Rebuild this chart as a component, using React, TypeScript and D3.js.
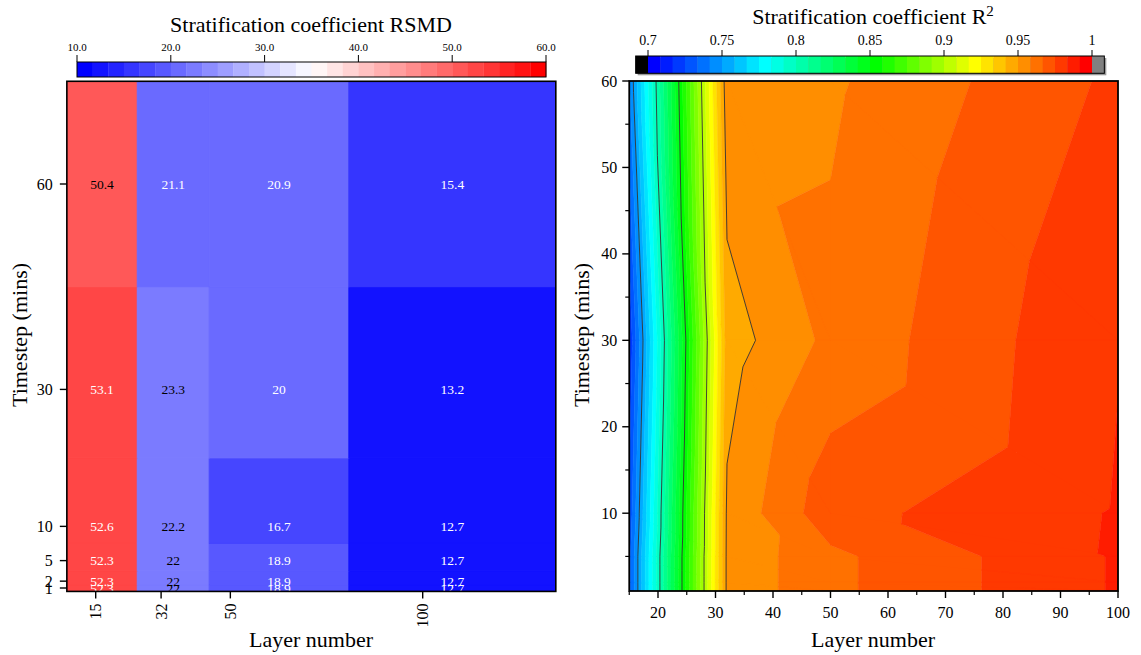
import React from "react";
import * as d3 from "d3";

// Layer numbers and timesteps (mins) of the stratification runs
const layers = [15, 32, 50, 100];
const timesteps = [1, 2, 5, 10, 30, 60];
// Heatmap cell borders along each axis
const layerEdges = [7.5, 25.8, 44.5, 80.8, 134.6];
const timestepEdges = [0.5, 1.5, 3.5, 7.5, 20, 45, 75];

// RSMD per timestep row (1, 2, 5, 10, 30, 60) and layer column
const rsmdT1 = [52.3, 22, 18.9, 12.7];
const rsmdT2 = [52.3, 22, 18.9, 12.7];
const rsmdT5 = [52.3, 22, 18.9, 12.7];
const rsmdT10 = [52.6, 22.2, 16.7, 12.7];
const rsmdT30 = [53.1, 23.3, 20, 13.2];
const rsmdT60 = [50.4, 21.1, 20.9, 15.4];
const rsmd = [rsmdT1, rsmdT2, rsmdT5, rsmdT10, rsmdT30, rsmdT60];

// R² per timestep row and layer column
const r2T1 = [0.7305, 0.952, 0.9648, 0.9842];
const r2T2 = [0.7305, 0.952, 0.9648, 0.9842];
const r2T5 = [0.7305, 0.952, 0.9648, 0.9842];
const r2T10 = [0.727, 0.9516, 0.972, 0.984];
const r2T30 = [0.718, 0.946, 0.9605, 0.983];
const r2T60 = [0.741, 0.9563, 0.957, 0.9768];
const r2 = [r2T1, r2T2, r2T5, r2T10, r2T30, r2T60];

const rsmdTicks = [10, 20, 30, 40, 50, 60];
const r2BarTicks = [0.7, 0.75, 0.8, 0.85, 0.9, 0.95, 1];
const r2LineLevels = [0.75, 0.8, 0.85, 0.9, 0.95];
const r2XTicks = [20, 30, 40, 50, 60, 70, 80, 90, 100];
const r2XMinor = [15, 25, 35, 45, 55, 65, 75, 85, 95];
const r2YTicks = [10, 20, 30, 40, 50, 60];
const r2YMinor = [5, 15, 25, 35, 45, 55];

const FONT = "'Liberation Serif', 'Times New Roman', serif";

// ---- RSMD palette: 30 discrete steps blue -> white -> red
const RSMD_MIN = 10;
const RSMD_MAX = 60;
const RSMD_STEPS = 30;
function rsmdStepColor(k: number) {
  if (k <= 14) {
    const c = Math.round((255 * k) / 14.5);
    return `rgb(${c},${c},255)`;
  }
  const c = Math.round((255 * (29 - k)) / 14.5);
  return `rgb(255,${c},${c})`;
}
function rsmdStep(v: number) {
  return Math.max(0, Math.min(RSMD_STEPS - 1, Math.floor(((v - RSMD_MIN) / (RSMD_MAX - RSMD_MIN)) * RSMD_STEPS + 1e-9)));
}
function labelColor(k: number) {
  const c = d3.rgb(rsmdStepColor(k));
  const lum = 0.299 * c.r + 0.587 * c.g + 0.114 * c.b;
  return lum < 130 ? "#ffffff" : "#000000";
}

// ---- R² palette: 36 discrete levels 0.7..1 (rainbow), black below, grey above
const R2_MIN = 0.7;
const R2_MAX = 1.0;
const R2_STEPS = 36;
const r2Edges = d3.range(R2_STEPS + 1).map((i) => R2_MIN + (i * (R2_MAX - R2_MIN)) / R2_STEPS);
const rainbow = d3
  .scaleLinear<string>()
  .domain([0, 9, 18, 26, 35])
  .range(["#0000ff", "#00ffff", "#00ff00", "#ffff00", "#ff0000"])
  .interpolate(d3.interpolateRgb);
function r2BandColor(k: number) {
  if (k < 0) return "#000000";
  if (k >= R2_STEPS) return "#808080";
  return rainbow(k);
}

type P = { x: number; y: number; v: number };

function clipPoly(poly: P[], level: number, keepAbove: boolean): P[] {
  const out: P[] = [];
  const inside = (p: P) => (keepAbove ? p.v >= level : p.v <= level);
  for (let i = 0; i < poly.length; i++) {
    const a = poly[i];
    const b = poly[(i + 1) % poly.length];
    const ia = inside(a);
    const ib = inside(b);
    if (ia) out.push(a);
    if (ia !== ib) {
      const t = (level - a.v) / (b.v - a.v);
      out.push({ x: a.x + t * (b.x - a.x), y: a.y + t * (b.y - a.y), v: level });
    }
  }
  return out;
}

// Triangulate the layer x timestep grid (diagonal from upper-left to lower-right)
function triangles(): P[][] {
  const tris: P[][] = [];
  const pt = (i: number, j: number): P => ({ x: layers[i], y: timesteps[j], v: r2[j][i] });
  for (let i = 0; i < layers.length - 1; i++) {
    for (let j = 0; j < timesteps.length - 1; j++) {
      tris.push([pt(i, j), pt(i + 1, j), pt(i, j + 1)]);
      tris.push([pt(i, j + 1), pt(i + 1, j), pt(i + 1, j + 1)]);
    }
  }
  return tris;
}

export default function App() {
  // ---------- left panel scales
  const xL = d3.scaleLinear().domain([15, 100]).range([95.7, 422.7]);
  const yL = d3.scaleLinear().domain([1, 60]).range([588, 184]);
  const cbL = d3.scaleLinear().domain([RSMD_MIN, RSMD_MAX]).range([77, 546]);
  const lx0 = xL(layerEdges[0]);
  const lx1 = xL(layerEdges[layerEdges.length - 1]);
  const ly0 = yL(timestepEdges[timestepEdges.length - 1]);
  const ly1 = yL(timestepEdges[0]);

  // ---------- right panel scales
  const xR = d3.scaleLinear().domain([15, 100]).range([629.25, 1118]);
  const yR = d3.scaleLinear().domain([1, 60]).range([591, 81]);
  const cbR = d3.scaleLinear().domain([R2_MIN, R2_MAX]).range([648, 1092]);
  const cbStep = cbR(r2Edges[1]) - cbR(r2Edges[0]);

  const tris = triangles();
  const line = d3
    .line<P>()
    .x((p) => xR(p.x))
    .y((p) => yR(p.y));

  // filled bands
  const bands: { k: number; d: string }[] = [];
  for (let k = -1; k <= R2_STEPS; k++) {
    const lo = k < 0 ? -Infinity : r2Edges[k];
    const hi = k >= R2_STEPS ? Infinity : r2Edges[k + 1];
    let d = "";
    for (const t of tris) {
      let poly = t;
      if (isFinite(lo)) poly = clipPoly(poly, lo, true);
      if (poly.length >= 3 && isFinite(hi)) poly = clipPoly(poly, hi, false);
      if (poly.length >= 3) d += line(poly) + "Z";
    }
    if (d) bands.push({ k, d });
  }

  // isolines
  let isoPath = "";
  for (const L of r2LineLevels) {
    for (const t of tris) {
      const pts: P[] = [];
      for (let e = 0; e < 3; e++) {
        const a = t[e];
        const b = t[(e + 1) % 3];
        if ((a.v - L) * (b.v - L) < 0) {
          const s = (L - a.v) / (b.v - a.v);
          pts.push({ x: a.x + s * (b.x - a.x), y: a.y + s * (b.y - a.y), v: L });
        }
      }
      if (pts.length === 2) isoPath += line(pts);
    }
  }

  const rx0 = xR(15);
  const rx1 = xR(100);
  const ry0 = yR(60);
  const ry1 = yR(1);

  return (
    <svg
      width={1141}
      height={655}
      style={{ position: "absolute", left: 0, top: 0, background: "#fff" }}
      fontFamily={FONT}
    >
      <defs>
        <clipPath id="clipL">
          <rect x={lx0} y={ly0} width={lx1 - lx0} height={ly1 - ly0} />
        </clipPath>
        <clipPath id="clipR">
          <rect x={rx0} y={ry0} width={rx1 - rx0} height={ry1 - ry0} />
        </clipPath>
      </defs>

      {/* ================= LEFT: RSMD heatmap ================= */}
      <text x={311} y={31.5} fontSize={22} textAnchor="middle">
        Stratification coefficient RSMD
      </text>
      {/* colour bar */}
      <g>
        {d3.range(RSMD_STEPS).map((k) => {
          const a = RSMD_MIN + (k * (RSMD_MAX - RSMD_MIN)) / RSMD_STEPS;
          const b = RSMD_MIN + ((k + 1) * (RSMD_MAX - RSMD_MIN)) / RSMD_STEPS;
          return (
            <rect key={k} x={cbL(a)} y={62} width={cbL(b) - cbL(a) + 0.3} height={15} fill={rsmdStepColor(k)} />
          );
        })}
        <rect x={cbL(RSMD_MIN)} y={62} width={cbL(RSMD_MAX) - cbL(RSMD_MIN)} height={15} fill="none" stroke="#000" strokeWidth={1} />
        {rsmdTicks.map((t) => (
          <g key={t}>
            <line x1={cbL(t)} x2={cbL(t)} y1={55} y2={62} stroke="#000" strokeWidth={1} />
            <text x={cbL(t)} y={51} fontSize={11} textAnchor="middle">
              {t.toFixed(1)}
            </text>
          </g>
        ))}
      </g>

      {/* cells */}
      <g clipPath="url(#clipL)">
        {rsmd.map((row, j) =>
          row.map((v, i) => {
            const k = rsmdStep(v);
            return (
              <rect
                key={`c${j}-${i}`}
                x={xL(layerEdges[i])}
                y={yL(timestepEdges[j + 1])}
                width={xL(layerEdges[i + 1]) - xL(layerEdges[i])}
                height={yL(timestepEdges[j]) - yL(timestepEdges[j + 1])}
                fill={rsmdStepColor(k)}
                stroke={rsmdStepColor(k)}
                strokeWidth={1}
              />
            );
          })
        )}
        {rsmd.map((row, j) =>
          row.map((v, i) => {
            const k = rsmdStep(v);
            const cx = (xL(layerEdges[i]) + xL(layerEdges[i + 1])) / 2;
            return (
              <text
                key={`t${j}-${i}`}
                x={cx}
                y={yL(timesteps[j])}
                dy="0.35em"
                fontSize={13.5}
                textAnchor="middle"
                fill={labelColor(k)}
              >
                {String(v)}
              </text>
            );
          })
        )}
      </g>
      <rect x={lx0} y={ly0} width={lx1 - lx0} height={ly1 - ly0} fill="none" stroke="#000" strokeWidth={1.6} />
      {/* left y axis */}
      {timesteps.map((t) => (
        <g key={`ly${t}`}>
          <line x1={lx0 - 7} x2={lx0} y1={yL(t)} y2={yL(t)} stroke="#000" strokeWidth={1.4} />
          <text x={lx0 - 14} y={yL(t)} dy="0.35em" fontSize={16} textAnchor="end">
            {t}
          </text>
        </g>
      ))}
      {/* left x axis */}
      {layers.map((l) => (
        <g key={`lx${l}`}>
          <line x1={xL(l)} x2={xL(l)} y1={ly1} y2={ly1 + 7} stroke="#000" strokeWidth={1.4} />
          <text
            transform={`translate(${xL(l)},${ly1 + 12}) rotate(-90)`}
            dy="0.35em"
            fontSize={16}
            textAnchor="end"
          >
            {l}
          </text>
        </g>
      ))}
      <text x={311} y={647} fontSize={22} textAnchor="middle">
        Layer number
      </text>
      <text transform={`translate(27,335) rotate(-90)`} fontSize={22} textAnchor="middle">
        Timestep (mins)
      </text>

      {/* ================= RIGHT: R² contour ================= */}
      <text x={873} y={24} fontSize={22} textAnchor="middle">
        Stratification coefficient R
        <tspan fontSize={15} dy={-8}>
          2
        </tspan>
      </text>
      {/* colour bar with shadow */}
      <g>
        <rect x={cbR(R2_MIN) - cbStep + 2} y={58} width={cbR(R2_MAX) - cbR(R2_MIN) + 2 * cbStep} height={17.3} fill="#9a9a9a" />
        <rect x={cbR(R2_MIN) - cbStep} y={56} width={cbStep} height={17.3} fill={r2BandColor(-1)} />
        {d3.range(R2_STEPS).map((k) => (
          <rect
            key={k}
            x={cbR(r2Edges[k])}
            y={56}
            width={cbStep + 0.3}
            height={17.3}
            fill={r2BandColor(k)}
          />
        ))}
        <rect x={cbR(R2_MAX)} y={56} width={cbStep} height={17.3} fill={r2BandColor(R2_STEPS)} />
        <rect
          x={cbR(R2_MIN) - cbStep}
          y={56}
          width={cbR(R2_MAX) - cbR(R2_MIN) + 2 * cbStep}
          height={17.3}
          fill="none"
          stroke="#000"
          strokeWidth={1}
        />
        {r2BarTicks.map((t) => (
          <g key={t}>
            <line x1={cbR(t)} x2={cbR(t)} y1={50} y2={56} stroke="#000" strokeWidth={1} />
            <text x={cbR(t)} y={45} fontSize={14} textAnchor="middle">
              {String(t)}
            </text>
          </g>
        ))}
      </g>

      <g clipPath="url(#clipR)">
        {bands.map((b) => (
          <path key={b.k} d={b.d} fill={r2BandColor(b.k)} stroke={r2BandColor(b.k)} strokeWidth={0.5} strokeLinejoin="round" />
        ))}
        <path d={isoPath} fill="none" stroke="#333" strokeWidth={0.9} />
      </g>
      <rect x={rx0} y={ry0} width={rx1 - rx0} height={ry1 - ry0} fill="none" stroke="#000" strokeWidth={1.8} />
      {/* right y axis */}
      {r2YTicks.map((t) => (
        <g key={`ry${t}`}>
          <line x1={rx0 - 7} x2={rx0} y1={yR(t)} y2={yR(t)} stroke="#000" strokeWidth={1.4} />
          <text x={rx0 - 12} y={yR(t)} dy="0.35em" fontSize={16} textAnchor="end">
            {t}
          </text>
        </g>
      ))}
      {r2YMinor.map((t) => (
        <line key={`rym${t}`} x1={rx0 - 4} x2={rx0} y1={yR(t)} y2={yR(t)} stroke="#000" strokeWidth={1.2} />
      ))}
      {/* right x axis */}
      {r2XTicks.map((t) => (
        <g key={`rx${t}`}>
          <line x1={xR(t)} x2={xR(t)} y1={ry1} y2={ry1 + 7} stroke="#000" strokeWidth={1.4} />
          <text x={xR(t)} y={618} fontSize={16} textAnchor="middle">
            {t}
          </text>
        </g>
      ))}
      {r2XMinor.map((t) => (
        <line key={`rxm${t}`} x1={xR(t)} x2={xR(t)} y1={ry1} y2={ry1 + 4} stroke="#000" strokeWidth={1.2} />
      ))}
      <text x={873} y={647} fontSize={22} textAnchor="middle">
        Layer number
      </text>
      <text transform={`translate(589,335) rotate(-90)`} fontSize={22} textAnchor="middle">
        Timestep (mins)
      </text>
    </svg>
  );
}
